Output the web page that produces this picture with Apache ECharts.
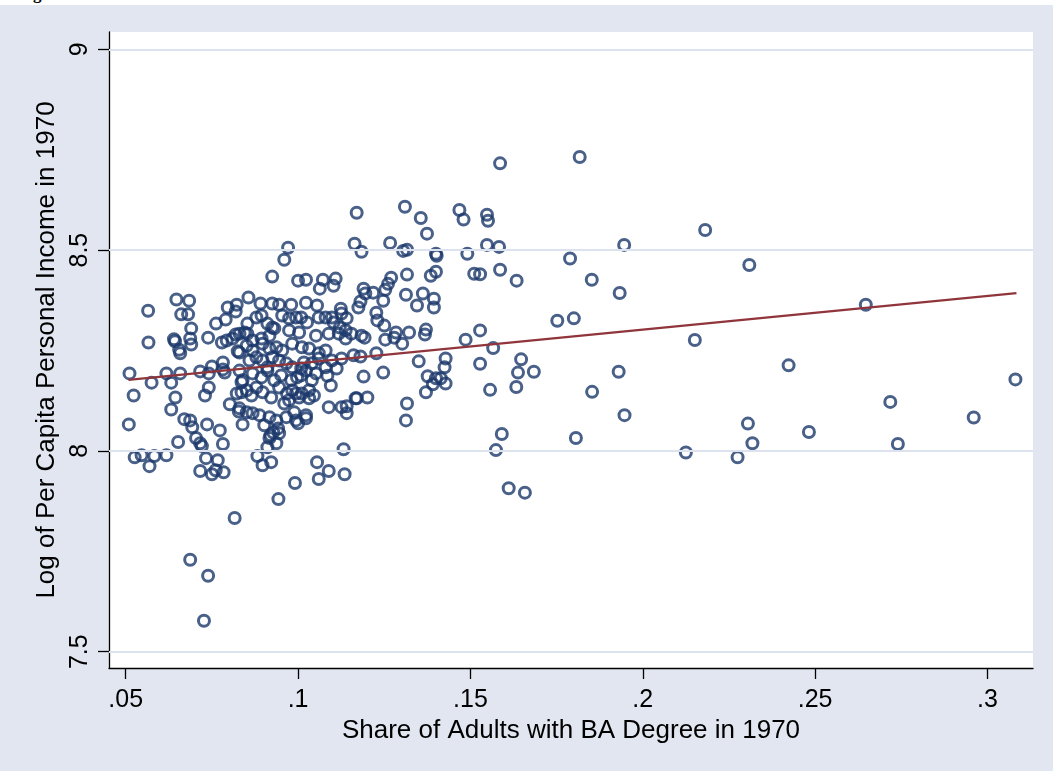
<!DOCTYPE html>
<html><head><meta charset="utf-8">
<script src="https://cdn.jsdelivr.net/npm/echarts@6/dist/echarts.min.js"></script>
<style>
html,body{margin:0;padding:0;background:#fff;width:1053px;height:771px;overflow:hidden;}
#cap{position:absolute;left:0;top:0;width:1053px;height:5px;overflow:hidden;}
#cap span{position:absolute;left:18px;top:-14px;font:bold 17px/16px "Liberation Serif",serif;color:#000;white-space:nowrap;}
#chart{position:absolute;left:0;top:5px;width:1053px;height:766px;}
</style></head><body>
<div id="cap"><span>Figure 3</span></div>
<div id="chart"></div>
<script>
// [share of adults with BA degree, log per capita personal income], 1970
const cityPoints = [
  // x < .085
  [.0565,8.349],[.0647,8.377],[.0684,8.374],[.0661,8.34],[.0681,8.34],[.069,8.305],[.064,8.278],[.0643,8.273],
  [.0687,8.28],[.069,8.265],[.0655,8.252],[.0658,8.243],[.0739,8.282],[.0762,8.317],[.079,8.327],[.0796,8.357],
  [.0819,8.347],[.0822,8.364],[.0779,8.27],[.0793,8.275],[.0819,8.29],[.0825,8.248],[.0566,8.27],[.0511,8.193],
  [.0575,8.17],[.0618,8.193],[.0632,8.17],[.0658,8.193],[.0523,8.138],[.0644,8.133],[.0632,8.103],[.0741,8.158],
  [.073,8.138],[.0716,8.198],[.0741,8.193],[.075,8.21],[.0782,8.203],[.0782,8.22],[.0509,8.066],[.067,8.079],
  [.0687,8.076],[.0693,8.059],[.0736,8.066],[.0773,8.051],[.0782,8.017],[.0652,8.022],[.0704,8.032],[.0716,8.019],
  [.0721,8.012],[.0526,7.984],[.0546,7.989],[.0583,7.987],[.0569,7.962],[.0618,7.989],[.0733,7.982],[.0716,7.95],
  [.075,7.942],[.0767,7.977],[.0784,7.947],[.0761,7.952],[.0687,7.729],[.0739,7.689],[.0727,7.577],[.0816,7.833],
  [.0802,8.116],[.0822,8.143],[.0836,8.171],[.0836,8.146],[.0828,8.098],[.0839,8.066],[.0787,8.195],[.083,8.2],
  [.083,8.245],[.081,8.28],[.083,8.292],[.0845,8.295],
  // .085 - .1
  [.0856,8.382],[.0891,8.367],[.0925,8.367],[.0945,8.364],[.098,8.364],[.0853,8.317],[.0879,8.332],[.0894,8.337],
  [.0911,8.317],[.0925,8.307],[.0954,8.337],[.0974,8.33],[.0994,8.332],[.0853,8.292],[.0868,8.275],[.0894,8.28],
  [.0917,8.287],[.0931,8.305],[.0974,8.3],[.0851,8.262],[.0868,8.25],[.0897,8.267],[.0917,8.255],[.0937,8.258],
  [.0954,8.25],[.0983,8.267],[.0859,8.225],[.0879,8.233],[.0897,8.225],[.0925,8.233],[.0945,8.225],[.0966,8.218],
  [.0983,8.208],[.0839,8.176],[.0868,8.193],[.0894,8.183],[.0911,8.2],[.0931,8.176],[.0951,8.188],[.098,8.176],
  [.0997,8.183],[.0851,8.151],[.0865,8.138],[.0879,8.158],[.0897,8.146],[.0922,8.133],[.0945,8.158],[.0968,8.143],
  [.0983,8.151],[.083,8.106],[.0851,8.096],[.0868,8.094],[.0888,8.089],[.0917,8.084],[.0937,8.076],[.0966,8.084],
  [.0994,8.076],[.0902,8.064],[.092,8.039],[.0928,8.046],[.0942,8.056],[.0882,7.987],[.0897,7.964],[.0922,7.972],
  [.0911,8.009],[.0943,7.88],[.0991,7.92],[.0971,8.506],[.096,8.476],[.0925,8.434],[.0911,8.208],[.0974,8.126],
  [.096,8.118],[.0989,8.096],[.0994,8.143],[.0945,8.044],[.0937,8.019],[.0917,8.032],
  // .1 - .13
  [.1009,8.332],[.1026,8.32],[.106,8.332],[.108,8.332],[.1098,8.332],[.1126,8.342],[.1141,8.33],[.1003,8.295],
  [.1052,8.287],[.1089,8.292],[.1118,8.292],[.1138,8.28],[.1155,8.292],[.1011,8.258],[.1032,8.255],[.106,8.243],
  [.108,8.25],[.1009,8.205],[.1017,8.22],[.104,8.218],[.106,8.23],[.1098,8.225],[.1126,8.23],[.1161,8.238],
  [.1009,8.188],[.1023,8.2],[.1052,8.193],[.108,8.208],[.1112,8.205],[.1095,8.163],[.1003,8.133],[.1011,8.143],
  [.1032,8.131],[.1046,8.138],[.1089,8.109],[.1126,8.109],[.1141,8.094],[.1167,8.131],[.1023,8.089],[.1,8.069],
  [.1023,8.081],[.1,8.424],[.1023,8.426],[.1072,8.426],[.1109,8.429],[.1103,8.411],[.1063,8.404],[.1023,8.369],
  [.1055,8.362],[.1124,8.354],[.1103,8.32],[.1121,8.307],[.1138,8.3],[.1184,8.287],[.1193,8.282],[.1181,8.235],
  [.1227,8.243],[.119,8.185],[.1247,8.195],[.1141,8.111],[.117,8.131],[.1201,8.133],[.1164,8.516],[.1184,8.496],
  [.1267,8.518],[.127,8.431],[.1261,8.416],[.1253,8.401],[.119,8.404],[.1195,8.392],[.1218,8.394],[.1181,8.372],
  [.1175,8.357],[.1247,8.374],[.1227,8.344],[.123,8.325],[.125,8.312],[.1253,8.277],[.1284,8.295],[.1279,8.282],
  [.117,8.593],[.1055,7.972],[.106,7.93],[.1089,7.95],[.1135,7.942],[.1132,8.004],[.104,8.176],[.1032,8.151],
  [.1085,8.187],
  // .13 - .152
  [.1374,8.541],[.1305,8.498],[.1316,8.501],[.14,8.491],[.1402,8.486],[.1491,8.491],[.1511,8.441],[.1385,8.436],
  [.14,8.446],[.1316,8.439],[.1313,8.389],[.1362,8.392],[.1394,8.379],[.1394,8.357],[.1345,8.362],[.1302,8.267],
  [.1322,8.295],[.1371,8.302],[.1368,8.29],[.1486,8.277],[.1428,8.23],[.1425,8.208],[.1414,8.181],[.1428,8.168],
  [.14,8.181],[.1391,8.166],[.1371,8.146],[.1376,8.186],[.135,8.223],[.1316,8.118],[.1313,8.076],[.131,8.608],
  [.1468,8.6],[.148,8.576],[.1356,8.58],
  // x > .152
  [.1586,8.716],[.1817,8.732],[.1548,8.588],[.1551,8.573],[.1548,8.513],[.1583,8.508],[.2181,8.55],[.1946,8.513],
  [.1789,8.479],[.2309,8.463],[.1528,8.44],[.1586,8.451],[.1634,8.424],[.1852,8.426],[.1933,8.393],[.1752,8.324],
  [.18,8.33],[.2647,8.364],[.1528,8.3],[.2151,8.276],[.1566,8.256],[.1528,8.217],[.1647,8.228],[.1638,8.195],
  [.1684,8.197],[.1557,8.152],[.1633,8.159],[.193,8.197],[.1853,8.147],[.2423,8.213],[.3081,8.178],[.1947,8.089],
  [.2718,8.122],[.1591,8.042],[.1574,8.002],[.1806,8.032],[.2305,8.068],[.2318,8.019],[.2275,7.984],[.2125,7.996],
  [.2482,8.047],[.274,8.017],[.296,8.083],[.1611,7.907],[.1658,7.896]
];
const fitLine = [[0.0508, 8.177], [0.3084, 8.393]];
const xTickValues = [0.05, 0.1, 0.15, 0.2, 0.25, 0.3];
const xTickLabels = ['.05', '.1', '.15', '.2', '.25', '.3'];
const yTickValues = [7.5, 8, 8.5, 9];
const yTickLabels = ['7.5', '8', '8.5', '9'];
const gridLineValues = [7.5, 8, 8.5, 9];

function lookup(vals, labels, v) {
  let best = 0;
  for (let i = 1; i < vals.length; i++) if (Math.abs(vals[i] - v) < Math.abs(vals[best] - v)) best = i;
  return labels[best];
}
const FONT = '"Liberation Sans", Arial, sans-serif';
const chart = echarts.init(document.getElementById('chart'), null, {renderer: 'canvas'});
chart.setOption({
  animation: false,
  backgroundColor: '#E1E6F0',
  grid: {left: 109, right: 20, top: 27, bottom: 103, show: true, backgroundColor: '#ffffff', borderWidth: 0},
  xAxis: {
    type: 'value', min: 0.04515, max: 0.3132,
    name: 'Share of Adults with BA Degree in 1970', nameLocation: 'middle', nameGap: 43,
    nameTextStyle: {fontSize: 26, color: '#000', fontFamily: FONT},
    axisLine: {show: true, onZero: false, lineStyle: {color: '#000', width: 1.3}},
    axisTick: {show: true, length: 11, customValues: xTickValues, lineStyle: {color: '#000', width: 1.3}},
    axisLabel: {customValues: xTickValues, formatter: v => lookup(xTickValues, xTickLabels, v),
      fontSize: 25, color: '#000', margin: 20, fontFamily: FONT},
    splitLine: {show: false}
  },
  yAxis: {
    type: 'value', min: 7.4594, max: 9.0431,
    name: 'Log of Per Capita Personal Income in 1970', nameLocation: 'middle', nameGap: 38,
    nameTextStyle: {fontSize: 26, color: '#000', fontFamily: FONT},
    axisLine: {show: true, onZero: false, lineStyle: {color: '#000', width: 1.3}},
    axisTick: {show: true, length: 11, customValues: yTickValues, lineStyle: {color: '#000', width: 1.3}},
    axisLabel: {customValues: yTickValues, formatter: v => lookup(yTickValues, yTickLabels, v),
      rotate: 90, fontSize: 25, color: '#000', margin: 16, fontFamily: FONT},
    splitLine: {show: false}
  },
  series: [
    {
      type: 'line', data: [], z: 1, silent: true,
      markLine: {
        silent: true, symbol: ['none', 'none'], label: {show: false},
        lineStyle: {color: '#DCE2EE', width: 2, type: 'solid'},
        data: gridLineValues.map(v => ({yAxis: v}))
      }
    },
    {
      type: 'scatter', data: cityPoints, z: 3, symbol: 'circle', symbolSize: 11,
      itemStyle: {color: 'rgba(255,255,255,0)', borderColor: '#1B386B', borderWidth: 3}
    },
    {
      type: 'line', data: fitLine, z: 4, symbol: 'none', silent: true,
      lineStyle: {color: '#90353B', width: 2.3}
    }
  ]
});
</script>
</body></html>
